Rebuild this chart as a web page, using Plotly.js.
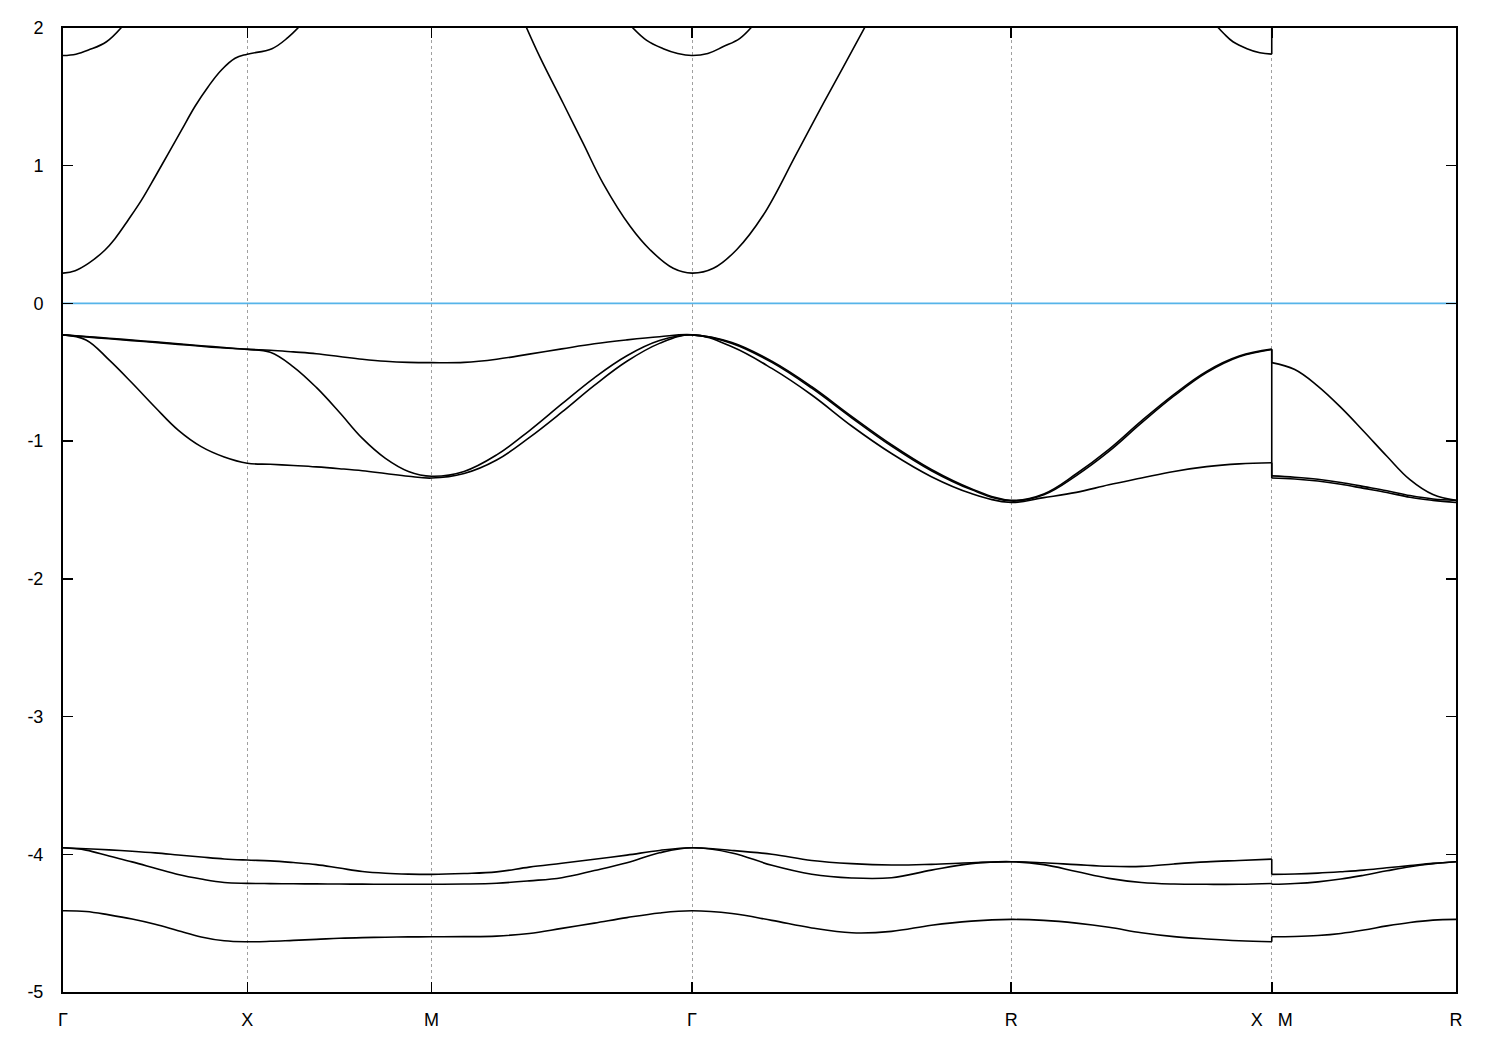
<!DOCTYPE html>
<html>
<head>
<meta charset="utf-8">
<script src="https://cdn.plot.ly/plotly-3.0.1.min.js"></script>
<style>html,body{margin:0;padding:0;background:#fff}#chart{width:1500px;height:1050px}</style>
</head>
<body>
<div id="chart"></div>
<script>
// high-symmetry points along the path (k-distance)
const kLabelPos = [0, 0.5, 1.0, 1.7071, 2.5731, 3.2802, 3.7802];
const kLabels = ['Γ', 'X', 'M', 'Γ', 'R', 'X\u00a0\u00a0\u00a0M', 'R'];
const yTickVals = [-5, -4, -3, -2, -1, 0, 1, 2];
const yTickText = ['-5', '-4', '-3', '-2', '-1', '0', '1', '2'];

// sampled k along Γ-X-M-Γ-R-X|M-R
const kPath = [
  0, 0.0625, 0.125, 0.1875, 0.25, 0.3125, 0.375, 0.4375, 0.5,
  0.5625, 0.625, 0.6875, 0.75, 0.8125, 0.875, 0.9375, 1.0,
  1.0884, 1.1768, 1.2652, 1.3536, 1.4419, 1.5303, 1.6187, 1.7071,
  1.8154, 1.9236, 2.0319, 2.1401, 2.2484, 2.3566, 2.4649, 2.5731,
  2.6615, 2.7499, 2.8383, 2.9267, 3.0150, 3.1034, 3.1918, 3.2802,
  3.2802, 3.3427, 3.4052, 3.4677, 3.5302, 3.5927, 3.6552, 3.7177, 3.7802
];

// valence bands near -1 eV
const bandV3 = [
  -0.228, -0.24, -0.253, -0.266, -0.279, -0.293, -0.307, -0.32, -0.332,
  -0.34, -0.352, -0.365, -0.385, -0.405, -0.42, -0.428, -0.43,
  -0.428, -0.405, -0.368, -0.33, -0.293, -0.265, -0.242, -0.228,
  -0.284, -0.42, -0.605, -0.82, -1.026, -1.206, -1.345, -1.43,
  -1.383, -1.237, -1.06, -0.853, -0.66, -0.493, -0.382, -0.332,
  -0.43, -0.48, -0.60, -0.755, -0.93, -1.11, -1.28, -1.388, -1.43
];
const bandV2 = [
  -0.228, -0.243, -0.257, -0.27, -0.283, -0.297, -0.311, -0.324, -0.334,
  -0.355, -0.46, -0.61, -0.79, -0.98, -1.125, -1.22, -1.255,
  -1.22, -1.10, -0.925, -0.73, -0.54, -0.38, -0.27, -0.228,
  -0.29, -0.428, -0.615, -0.83, -1.036, -1.215, -1.352, -1.435,
  -1.39, -1.25, -1.075, -0.868, -0.672, -0.502, -0.387, -0.334,
  -1.252, -1.262, -1.277, -1.30, -1.33, -1.36, -1.395, -1.42, -1.43
];
const bandV1 = [
  -0.228, -0.265, -0.41, -0.578, -0.754, -0.92, -1.04, -1.115, -1.16,
  -1.168, -1.177, -1.187, -1.20, -1.215, -1.235, -1.255, -1.268,
  -1.235, -1.137, -0.975, -0.79, -0.595, -0.42, -0.29, -0.228,
  -0.315, -0.472, -0.665, -0.89, -1.09, -1.258, -1.38, -1.445,
  -1.41, -1.372, -1.317, -1.268, -1.22, -1.185, -1.165, -1.157,
  -1.268, -1.275, -1.29, -1.313, -1.343, -1.373, -1.408, -1.43, -1.445
];

// low-lying bands near -4 eV
const bandL3 = [
  -3.953, -3.96, -3.968, -3.978, -3.99, -4.005, -4.02, -4.034, -4.042,
  -4.048, -4.06, -4.075, -4.10, -4.125, -4.138, -4.144, -4.146,
  -4.14, -4.128, -4.093, -4.065, -4.036, -4.006, -3.972, -3.953,
  -3.972, -4.0, -4.045, -4.068, -4.078, -4.073, -4.062, -4.054,
  -4.062, -4.075, -4.087, -4.088, -4.07, -4.055, -4.045, -4.035,
  -4.146, -4.143, -4.137, -4.127, -4.115, -4.098, -4.082, -4.066, -4.054
];
const bandL2 = [
  -3.953, -3.97, -4.013, -4.055, -4.101, -4.147, -4.18, -4.205, -4.211,
  -4.213, -4.214, -4.215, -4.216, -4.217, -4.218, -4.218, -4.218,
  -4.216, -4.21, -4.193, -4.17, -4.118, -4.061, -3.989, -3.953,
  -3.99, -4.08, -4.145, -4.172, -4.17, -4.115, -4.068, -4.054,
  -4.075, -4.125, -4.175, -4.205, -4.216, -4.218, -4.218, -4.212,
  -4.218, -4.212, -4.2, -4.18, -4.152, -4.12, -4.09, -4.068, -4.054
];
const bandL1 = [
  -4.41, -4.415, -4.44, -4.47, -4.508, -4.555, -4.60, -4.628, -4.635,
  -4.632, -4.625, -4.618, -4.61, -4.605, -4.602, -4.60, -4.599,
  -4.598, -4.594, -4.575, -4.538, -4.50, -4.46, -4.426, -4.41,
  -4.43, -4.48, -4.535, -4.57, -4.56, -4.515, -4.485, -4.473,
  -4.48, -4.50, -4.53, -4.57, -4.598, -4.615, -4.628, -4.635,
  -4.599, -4.597, -4.59, -4.575, -4.55, -4.52, -4.495, -4.478, -4.473
];

// conduction bands (only the parts inside the window)
const kC1 = [0, 0.033, 0.069, 0.114, 0.141, 0.177, 0.213, 0.25, 0.286, 0.322, 0.358, 0.394, 0.43, 0.467, 0.5, 0.567, 0.61, 0.655];
const eC1 = [0.22, 0.238, 0.291, 0.388, 0.47, 0.606, 0.75, 0.92, 1.09, 1.26, 1.43, 1.574, 1.695, 1.78, 1.81, 1.85, 1.93, 2.05];
const kC2 = [0, 0.035, 0.069, 0.118, 0.17];
const eC2 = [1.80, 1.81, 1.84, 1.90, 2.04];
const kC3 = [1.25, 1.294, 1.358, 1.412, 1.466, 1.539, 1.593, 1.656, 1.7071, 1.765, 1.828, 1.900, 1.991, 2.063, 2.118, 2.182];
const eC3 = [2.05, 1.79, 1.45, 1.16, 0.87, 0.56, 0.39, 0.255, 0.22, 0.255, 0.39, 0.64, 1.09, 1.45, 1.72, 2.035];
const kC4 = [1.536, 1.584, 1.629, 1.668, 1.7071, 1.75, 1.792, 1.837, 1.876];
const eC4 = [2.03, 1.91, 1.85, 1.815, 1.80, 1.815, 1.865, 1.925, 2.03];
const kC5 = [3.126, 3.15, 3.175, 3.213, 3.248, 3.2802, 3.2802];
const eC5 = [2.03, 1.96, 1.90, 1.85, 1.82, 1.81, 2.05];

const traces = [];
function addBand(k, e) {
  let start = 0;
  const lineStyle = {color: '#000000', width: 1.6};
  for (let i = 1; i <= k.length; i++) {
    if (i === k.length || k[i] === k[i - 1]) {
      traces.push({x: k.slice(start, i), y: e.slice(start, i), mode: 'lines',
        line: Object.assign({shape: 'spline', smoothing: 1.1}, lineStyle), hoverinfo: 'skip'});
      if (i < k.length) {
        traces.push({x: [k[i - 1], k[i]], y: [e[i - 1], e[i]], mode: 'lines',
          line: Object.assign({shape: 'linear'}, lineStyle), hoverinfo: 'skip'});
      }
      start = i;
    }
  }
}
[bandL1, bandL2, bandL3, bandV1, bandV2, bandV3].forEach(b => addBand(kPath, b));
addBand(kC1, eC1);
addBand(kC2, eC2);
addBand(kC3, eC3);
addBand(kC4, eC4);
addBand(kC5, eC5);

const layout = {
  width: 1500, height: 1050,
  margin: {l: 63, r: 44, t: 28, b: 58, pad: 0},
  paper_bgcolor: '#ffffff', plot_bgcolor: '#ffffff',
  showlegend: false, hovermode: false,
  font: {family: 'Liberation Sans, Arial, sans-serif', size: 18, color: '#000000'},
  xaxis: {
    range: [0, 3.7802], tickmode: 'array', tickvals: kLabelPos, ticktext: kLabels,
    ticks: 'inside', ticklen: 10, tickwidth: 1.5, tickcolor: '#000000',
    showline: true, linecolor: '#000000', linewidth: 2, mirror: 'ticks',
    showgrid: true, gridcolor: '#a0a0a0', gridwidth: 1, griddash: '3px,3px',
    zeroline: false, ticklabelstandoff: 10,
    tickfont: {family: 'Liberation Sans, Arial, sans-serif', size: 18, color: '#000000'}
  },
  yaxis: {
    range: [-5, 2], tickmode: 'array', tickvals: yTickVals, ticktext: yTickText,
    ticks: 'inside', ticklen: 10, tickwidth: 1.5, tickcolor: '#000000',
    showline: true, linecolor: '#000000', linewidth: 2, mirror: 'ticks',
    showgrid: false, zeroline: false, ticklabelstandoff: 14,
    tickfont: {family: 'Liberation Sans, Arial, sans-serif', size: 18, color: '#000000'}
  },
  shapes: [{type: 'line', xref: 'paper', x0: 0, x1: 1, yref: 'y', y0: 0, y1: 0,
    line: {color: '#56b4e9', width: 1.8}, layer: 'below'}]
};

Plotly.newPlot('chart', traces, layout, {staticPlot: true, displayModeBar: false});
</script>
</body>
</html>
